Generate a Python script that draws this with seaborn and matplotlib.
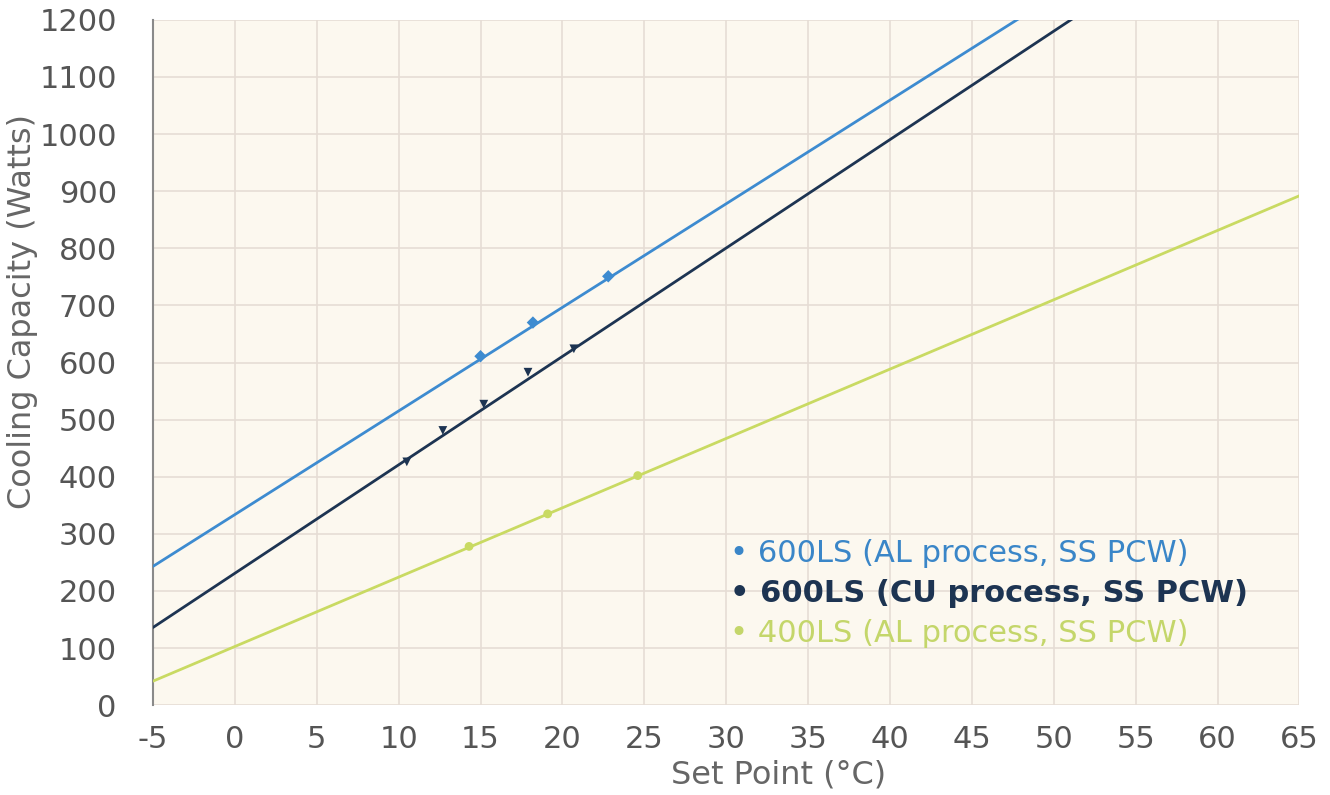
import numpy as np
import pandas as pd
import matplotlib
matplotlib.use("Agg")
import matplotlib.pyplot as plt
import seaborn as sns

# fitted lines (read at the plot edges, x = -5 and x = 65)
line_x = [-5, 65]
al600_line = [243, 1513]
cu600_line = [136, 1465]
al400_line = [42, 892]

# measured points
al600_x = [15.0, 18.2, 22.8]
al600_y = [611, 670, 751]
cu600_x = [10.5, 12.7, 15.2, 17.9, 20.7]
cu600_y = [426, 481, 527, 583, 624]
al400_x = [14.3, 19.1, 24.6]
al400_y = [278, 335, 402]

labels = ["600LS (AL process, SS PCW)",
          "600LS (CU process, SS PCW)",
          "400LS (AL process, SS PCW)"]
colors = ["#3d8bd0", "#1d3452", "#c9da62"]
text_colors = ["#3a86c8", "#1d3452", "#c4d66a"]

x_ticks = list(range(-5, 66, 5))
y_ticks = list(range(0, 1201, 100))

sns.set_style("white")
plt.rcParams["font.family"] = ["DejaVu Sans"]
plt.rcParams["axes.unicode_minus"] = False

fig = plt.figure(figsize=(13.3, 7.95), dpi=100)
ax = fig.add_axes([0.115, 0.113, 0.862, 0.862])
ax.set_facecolor("#fcf8ef")

lines_df = pd.DataFrame({
    "x": line_x * 3,
    "y": al600_line + cu600_line + al400_line,
    "series": [labels[0]] * 2 + [labels[1]] * 2 + [labels[2]] * 2,
})
pts_df = pd.DataFrame({
    "x": al600_x + cu600_x + al400_x,
    "y": al600_y + cu600_y + al400_y,
    "series": [labels[0]] * len(al600_x) + [labels[1]] * len(cu600_x)
              + [labels[2]] * len(al400_x),
})
palette = dict(zip(labels, colors))

sns.lineplot(data=lines_df, x="x", y="y", hue="series", palette=palette,
             linewidth=2.0, legend=False, ax=ax, zorder=3)
sns.scatterplot(data=pts_df, x="x", y="y", hue="series", style="series",
                markers={labels[0]: "D", labels[1]: "v", labels[2]: "o"},
                palette=palette, s=40, edgecolor="none", legend=False,
                ax=ax, zorder=4)

ax.set_xlim(-5, 65)
ax.set_ylim(0, 1200)
ax.set_xticks(x_ticks)
ax.set_yticks(y_ticks)
ax.grid(True, color="#e6ddd5", linewidth=1.2)
ax.set_axisbelow(True)

for side in ["top", "right", "bottom"]:
    ax.spines[side].set_visible(False)
ax.spines["left"].set_color("#8a8a8a")
ax.spines["left"].set_linewidth(1.5)

ax.tick_params(axis="both", length=0, labelsize=22, labelcolor="#555555")
ax.tick_params(axis="y", pad=26)
ax.tick_params(axis="x", pad=14)

ax.set_xlabel("Set Point (°C)", fontsize=23, color="#666666")
ax.set_ylabel("Cooling Capacity (Watts)", fontsize=23, color="#666666")
ax.xaxis.set_label_coords(0.546, -0.080)
ax.yaxis.set_label_coords(-0.100, 0.575)

for i, (lab, col) in enumerate(zip(labels, text_colors)):
    ax.text(0.503, 0.222 - i * 0.0585, "• " + lab, transform=ax.transAxes,
            fontsize=22, color=col, ha="left", va="center",
            fontweight="bold" if i == 1 else "normal", zorder=5)

fig.savefig("out.png", dpi=100)
